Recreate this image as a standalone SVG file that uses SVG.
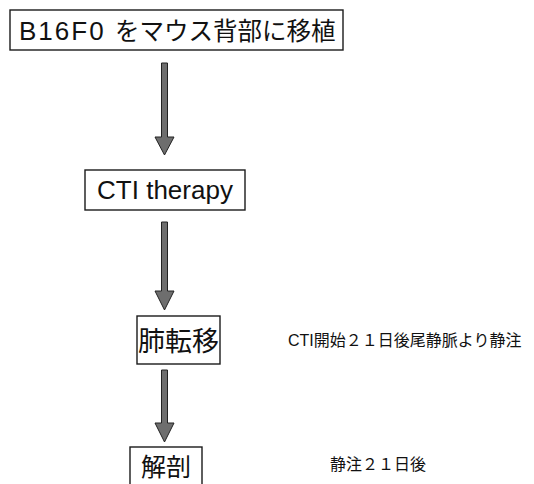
<svg xmlns="http://www.w3.org/2000/svg" width="534" height="484" viewBox="0 0 534 484">
<style>
.box{fill:#fff;stroke:#1a1a1a;stroke-width:1.4}
.lat{font-family:"Liberation Sans","Noto Sans CJK JP",sans-serif;fill:#111}
.jp{font-family:"Noto Sans CJK JP","Liberation Sans",sans-serif;fill:#111}
.arrow{fill:#6e6e6e;stroke:#222;stroke-width:1}
</style>
<rect width="534" height="484" fill="#fff"/>
<g id="node-transplant">
<rect class="box" x="10" y="10" width="333" height="40"/>
<text class="lat" x="19" y="40" font-size="26" letter-spacing="2">B16F0<tspan class="jp" x="115" font-size="24.5" letter-spacing="0">をマウス背部に移植</tspan></text>
</g>
<g id="node-cti">
<rect class="box" x="85" y="170" width="160" height="40"/>
<text class="lat" x="165" y="199" font-size="26" text-anchor="middle">CTI therapy</text>
</g>
<g id="node-metastasis">
<rect class="box" x="137" y="316" width="83" height="48"/>
<text class="jp" x="178.5" y="351" font-size="27" text-anchor="middle">肺転移</text>
</g>
<g id="node-autopsy">
<rect class="box" x="130" y="447" width="72" height="45"/>
<text class="jp" x="166" y="476" font-size="25" text-anchor="middle">解剖</text>
</g>
<g id="connectors">
<path class="arrow" d="M161.5,63 H167.5 V137 H174 L164.5,155 L155,137 H161.5 Z"/>
<path class="arrow" d="M161.5,222 H167.5 V291 H174 L164.5,310 L155,291 H161.5 Z"/>
<path class="arrow" d="M161.5,370 H167.5 V423 H174 L164.5,442 L155,423 H161.5 Z"/>
</g>
<g id="labels">
<text class="lat" x="288" y="346" font-size="16">CTI<tspan class="jp">開始２１日後尾静脈より静注</tspan></text>
<text class="jp" x="330" y="470" font-size="16">静注２１日後</text>
</g>
</svg>
